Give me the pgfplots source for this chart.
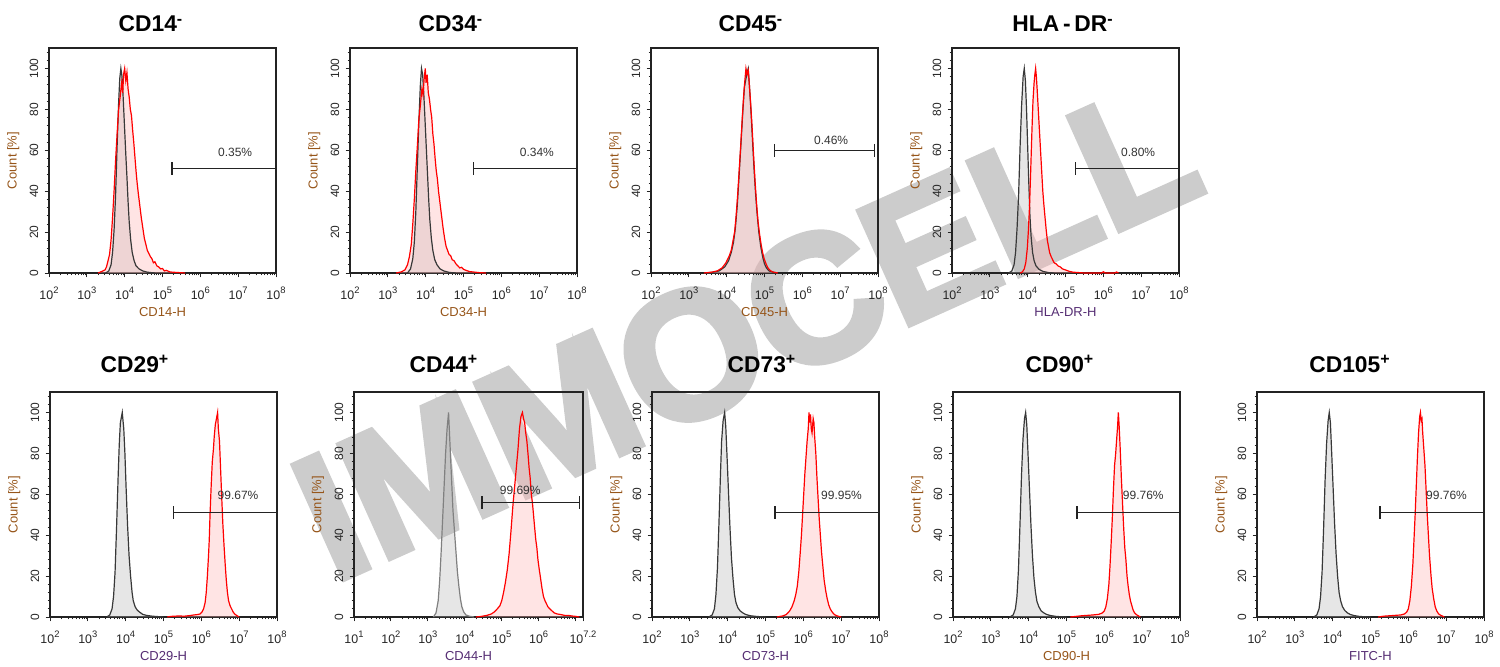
\documentclass[border=0pt]{standalone}
\usepackage{fontspec}
\setmainfont{Liberation Sans}
\newfontfamily\wmfont[FakeBold=3.5]{Liberation Sans Bold}
\usepackage{pgfplots}
\pgfplotsset{compat=1.18}
\usepackage{pgfplotstable}

\definecolor{lblbrown}{RGB}{150,85,25}
\definecolor{lblpurple}{RGB}{85,45,115}
\definecolor{wm}{RGB}{204,204,204}
\definecolor{axc}{RGB}{35,35,35}

\newcommand\tp[1]{10\raisebox{2.6pt}{\fontsize{4.7}{4}\selectfont #1}}

% ---------------- data (x = log10 of intensity, y = count %) ----------------
\pgfplotstableread{
x y
3.50 0
3.58 1
3.64 4
3.68 10
3.72 21
3.76 38
3.80 62
3.84 83
3.87 95
3.90 100
3.93 96
3.96 86
4.00 70
4.03 58
4.06 47
4.09 35
4.12 25
4.16 16
4.20 10
4.25 6
4.30 3.5
4.38 2
4.48 1
4.60 0.4
4.80 0
}\gA
\pgfplotstableread{
x y
3.30 0
3.40 0.8
3.48 1.5
3.52 3
3.56 6
3.60 9
3.64 16
3.68 27
3.72 40
3.76 55
3.80 68
3.84 80
3.88 86
3.92 93
3.95 88
3.97 97
4.00 100
4.03 94
4.06 98
4.09 90
4.12 86
4.15 80
4.18 77
4.21 70
4.24 64
4.27 57
4.30 50
4.33 44
4.36 39
4.40 33
4.44 27
4.48 22
4.52 17
4.56 14
4.60 11
4.64 9.5
4.68 8
4.72 7
4.76 5
4.80 5.5
4.85 3.5
4.90 3
4.95 2
5.00 2.2
5.05 1
5.10 1.3
5.20 0.5
5.35 0.3
5.60 0
}\rA
\pgfplotstableread{
x y
3.52 0
3.60 2
3.66 7
3.70 15
3.74 30
3.78 52
3.82 74
3.86 92
3.89 100
3.92 97
3.95 88
3.99 72
4.02 60
4.05 48
4.08 36
4.11 26
4.15 17
4.19 11
4.24 6.5
4.30 4
4.38 2
4.48 1
4.62 0.3
4.80 0
}\gB
\pgfplotstableread{
x y
3.22 0
3.35 0.5
3.45 1.5
3.52 4
3.57 8
3.62 14
3.66 24
3.70 36
3.74 50
3.78 62
3.82 75
3.86 82
3.90 90
3.93 87
3.96 95
3.99 100
4.01 93
4.04 97
4.07 88
4.10 85
4.13 80
4.16 76
4.19 68
4.22 63
4.25 56
4.28 50
4.31 46
4.34 40
4.38 34
4.42 28
4.46 22
4.50 17
4.54 13
4.58 11
4.62 9
4.66 8.5
4.70 6.5
4.75 6
4.80 4.5
4.85 3.5
4.90 2.5
4.95 2.8
5.00 1.8
5.08 1.2
5.16 0.7
5.26 0.5
5.40 0.2
5.60 0
}\rB
\pgfplotstableread{
x y
3.40 0
3.60 0.3
3.80 1
3.95 3
4.05 6
4.12 10
4.18 15
4.23 22
4.28 33
4.33 48
4.38 64
4.43 80
4.47 91
4.51 95
4.54 98
4.57 100
4.60 92
4.64 80
4.68 66
4.72 52
4.76 40
4.80 30
4.85 20
4.90 13
4.95 8
5.00 4.5
5.05 2.5
5.12 1
5.25 0.3
5.35 0
}\gC
\pgfplotstableread{
x y
3.40 0
3.60 0.4
3.75 1
3.88 2.5
3.98 5
4.06 8
4.12 11
4.17 16
4.21 20
4.25 28
4.29 38
4.33 50
4.37 62
4.41 75
4.45 87
4.48 94
4.51 100
4.54 97
4.57 99
4.60 92
4.63 84
4.67 72
4.71 58
4.75 45
4.79 34
4.83 25
4.87 19
4.91 14
4.95 10
4.99 7
5.04 4.5
5.09 2.5
5.15 1.2
5.22 0.5
5.35 0
}\rC
\pgfplotstableread{
x y
3.50 0
3.58 1
3.64 4
3.68 10
3.72 22
3.76 38
3.80 62
3.84 82
3.88 96
3.91 100
3.94 94
3.97 80
4.00 62
4.03 44
4.06 28
4.09 18
4.13 10
4.17 6
4.22 3.5
4.30 1.8
4.40 0.8
4.55 0.2
4.70 0
}\gD
\pgfplotstableread{
x y
3.80 0
3.86 0.5
3.91 2
3.95 5
3.99 12
4.02 21
4.05 33
4.08 50
4.11 68
4.14 84
4.17 93
4.19 97
4.21 100
4.23 96
4.25 90
4.28 80
4.31 70
4.34 60
4.37 50
4.40 40
4.43 33
4.46 27
4.49 21
4.52 16
4.55 13
4.58 10
4.62 8
4.66 6.5
4.70 5
4.75 4.5
4.80 3.5
4.86 3
4.92 2
5.00 1.5
5.10 0.8
5.20 0.4
5.35 0.2
5.50 0
5.95 0
6.00 0.6
6.05 0
6.30 0
6.35 0.5
6.40 0
}\rD
\pgfplotstableread{
x y
3.50 0
3.58 1
3.64 4
3.68 10
3.72 22
3.76 44
3.80 68
3.83 84
3.86 95
3.91 100
3.95 92
3.98 80
4.01 64
4.05 45
4.09 30
4.13 20
4.17 12
4.20 8
4.25 5
4.30 3.5
4.36 2.5
4.45 1.3
4.55 0.8
4.70 0.4
4.85 0.2
5.00 0
}\gE
\pgfplotstableread{
x y
5.10 0
5.20 0.3
5.40 0.5
5.55 0.4
5.70 0.7
5.80 1
5.90 1.2
5.97 1.5
6.02 2.5
6.06 4
6.10 7
6.13 12
6.16 20
6.19 30
6.21 38
6.23 50
6.26 64
6.29 76
6.32 82
6.34 88
6.37 94
6.40 97
6.43 100
6.45 92
6.48 86
6.51 72
6.54 58
6.57 45
6.60 35
6.63 26
6.66 18
6.69 12
6.72 8
6.76 5.5
6.80 4
6.84 2.5
6.88 1.5
6.93 0.8
7.00 0
}\rE
\pgfplotstableread{
x y
3.15 0
3.22 2
3.28 8
3.32 18
3.36 32
3.40 48
3.44 64
3.48 80
3.52 92
3.56 100
3.59 88
3.62 76
3.65 64
3.68 52
3.72 42
3.76 32
3.80 22
3.84 15
3.88 9
3.92 5
3.97 2.5
4.03 1
4.12 0.4
4.25 0
}\gF
\pgfplotstableread{
x y
4.30 0
4.45 0.3
4.60 0.8
4.72 1.5
4.80 2.5
4.88 4
4.95 5.5
5.00 8
5.05 12
5.10 17
5.15 23
5.20 31
5.25 42
5.30 54
5.35 64
5.40 74
5.44 82
5.48 92
5.52 98
5.56 100
5.59 97
5.62 95
5.65 90
5.68 86
5.71 80
5.74 73
5.77 68
5.80 60
5.83 56
5.86 50
5.89 44
5.92 38
5.95 34
5.98 28
6.01 24
6.05 19
6.09 14
6.13 10
6.17 8
6.21 6.5
6.25 5
6.30 4
6.36 3
6.42 2
6.50 1.5
6.60 1.2
6.70 0.8
6.80 0.8
6.90 0.5
7.00 0.3
7.10 0
}\rF
\pgfplotstableread{
x y
3.50 0
3.59 1
3.65 4
3.69 11
3.73 24
3.77 46
3.81 70
3.84 86
3.88 96
3.92 100
3.95 93
3.98 80
4.02 62
4.06 44
4.10 29
4.14 19
4.18 11
4.22 7
4.27 4.5
4.33 3
4.40 2
4.48 1.2
4.60 0.6
4.75 0.3
4.90 0.1
5.00 0
}\gG
\pgfplotstableread{
x y
5.30 0
5.45 0.5
5.55 1.2
5.64 3
5.70 5
5.76 8
5.80 11
5.84 15
5.88 22
5.92 32
5.95 40
5.98 50
6.01 60
6.04 70
6.07 78
6.10 86
6.13 92
6.15 100
6.17 95
6.19 99
6.21 92
6.23 90
6.26 97
6.28 95
6.30 88
6.33 80
6.36 68
6.39 58
6.42 48
6.45 40
6.48 32
6.51 26
6.55 18
6.59 13
6.63 9
6.67 6
6.71 4
6.76 2.5
6.82 1.2
6.90 0.5
7.00 0
}\rG
\pgfplotstableread{
x y
3.50 0
3.59 1
3.65 4
3.69 10
3.73 23
3.77 45
3.81 69
3.85 87
3.89 97
3.92 100
3.95 94
3.98 81
4.02 63
4.06 45
4.10 30
4.14 19
4.18 12
4.22 7.5
4.27 5
4.33 3
4.40 2
4.48 1.2
4.58 0.7
4.72 0.3
4.88 0.1
5.00 0
}\gH
\pgfplotstableread{
x y
5.10 0
5.25 0.3
5.40 0.6
5.55 0.8
5.70 1
5.85 1.3
5.95 2
6.00 3
6.04 5
6.08 9
6.12 16
6.15 25
6.18 36
6.21 48
6.24 62
6.27 74
6.30 80
6.33 88
6.35 93
6.37 100
6.39 94
6.42 82
6.45 68
6.48 56
6.51 44
6.54 34
6.57 28
6.60 20
6.63 15
6.66 11
6.69 8
6.72 6
6.76 3.5
6.80 2
6.86 1
6.95 0
}\rH
\pgfplotstableread{
x y
3.50 0
3.58 1
3.64 4
3.68 10
3.72 22
3.76 43
3.80 67
3.84 85
3.88 96
3.91 100
3.94 95
3.97 82
4.01 64
4.05 46
4.09 31
4.13 20
4.17 12
4.21 8
4.26 5
4.32 3.2
4.39 2
4.47 1.2
4.57 0.7
4.70 0.3
4.86 0.1
5.00 0
}\gI
\pgfplotstableread{
x y
5.20 0
5.35 0.4
5.50 0.6
5.65 0.8
5.80 1
5.90 1.5
5.96 2.5
6.00 4
6.04 8
6.08 15
6.12 26
6.15 38
6.18 50
6.21 64
6.24 78
6.27 90
6.30 98
6.32 100
6.34 96
6.36 97
6.38 90
6.41 82
6.44 74
6.47 62
6.50 50
6.53 40
6.56 30
6.60 20
6.63 14
6.67 9
6.71 5
6.75 3
6.80 1.5
6.86 0.8
6.95 0
}\rI

\pgfplotsset{
  minorlog/.style={minor xtick={1.301,1.477,1.602,1.699,1.778,1.845,1.903,1.954,
    2.301,2.477,2.602,2.699,2.778,2.845,2.903,2.954,
    3.301,3.477,3.602,3.699,3.778,3.845,3.903,3.954,
    4.301,4.477,4.602,4.699,4.778,4.845,4.903,4.954,
    5.301,5.477,5.602,5.699,5.778,5.845,5.903,5.954,
    6.301,6.477,6.602,6.699,6.778,6.845,6.903,6.954,
    7.301,7.477,7.602,7.699,7.778,7.845,7.903,7.954}},
  fbase/.style={
    scale only axis, width=113.5pt, height=112.5pt, anchor=south west,
    ymin=0, ymax=110,
    ytick={0,20,...,100},
    minor ytick={4,8,12,16,24,28,32,36,44,48,52,56,64,68,72,76,84,88,92,96,104,108},
    xtick pos=bottom, ytick pos=left, tick align=outside,
    major tick length=2.2pt, minor tick length=1.2pt,
    every tick/.style={color=axc, line width=0.45pt},
    every minor tick/.style={color=axc, line width=0.4pt},
    axis line style={color=axc, line width=0.7pt},
    minorlog,
    /pgf/number format/assume math mode=true,
    tick label style={text=black!85},
    xticklabel style={font=\fontsize{6.2}{6}\selectfont, inner sep=0pt, anchor=north, yshift=-4.8pt},
    yticklabel style={font=\fontsize{6}{6}\selectfont, rotate=90, anchor=south, inner xsep=0pt, inner ysep=3pt},
    ylabel={Count [\%]},
    ylabel style={at={(axis description cs:-0.157,0.5)}, anchor=center, font=\fontsize{6.5}{7}\selectfont, text=lblbrown},
    xlabel style={at={(axis description cs:0.5,-0.173)}, anchor=center, font=\fontsize{6.5}{7}\selectfont},
  },
  std/.style={fbase, xmin=2, xmax=8, xtick={2,...,8},
    xticklabels={\tp{2},\tp{3},\tp{4},\tp{5},\tp{6},\tp{7},\tp{8}}},
  gfill/.style={draw=none, fill=black!30, fill opacity=0.33},
  rfill/.style={draw=none, fill=red!30, fill opacity=0.35},
  gline/.style={draw=black!78, line width=0.6pt, mark=none},
  rline/.style={draw=red, line width=0.6pt, mark=none},
  gate/.style={draw=axc, line width=0.7pt, mark=|, mark size=3.2pt, mark options={solid, draw=axc, line width=0.7pt}},
}
\tikzset{
  pct/.style={font=\fontsize{6}{7}\selectfont, text=black!80},
  ttl/.style={font=\fontsize{11.4}{12}\selectfont\bfseries, anchor=base, inner sep=0pt},
}

\begin{document}
\begin{tikzpicture}
\useasboundingbox (0,0) rectangle (750pt,333pt);

% watermark
\node[rotate=24.2, text=wm, font=\fontsize{90}{90}\wmfont, inner sep=0pt] at (373pt,168pt) {IMMOCELL};

% titles
\node[ttl] at (75.5pt,317pt) {CD14\textsuperscript{-}};
\node[ttl] at (225.5pt,317pt) {CD34\textsuperscript{-}};
\node[ttl] at (375.5pt,317pt) {CD45\textsuperscript{-}};
\node[ttl] at (531.5pt,317pt) {HLA\,-\,DR\textsuperscript{-}};
\node[ttl] at (67.5pt,147pt) {CD29\textsuperscript{+}};
\node[ttl] at (222pt,147pt) {CD44\textsuperscript{+}};
\node[ttl] at (381pt,147pt) {CD73\textsuperscript{+}};
\node[ttl] at (530pt,147pt) {CD90\textsuperscript{+}};
\node[ttl] at (675pt,147pt) {CD105\textsuperscript{+}};

% ---- CD14
\begin{axis}[std, at={(24.5pt,196.5pt)}, xlabel={CD14-H}, xlabel style={text=lblbrown}]
\addplot[gfill] table {\gA} \closedcycle;
\addplot[rfill] table {\rA} \closedcycle;
\addplot[gline] table {\gA};
\addplot[rline] table {\rA};
\addplot[gate] coordinates {(5.25,51) (8,51)};
\node[pct] at (axis cs:6.92,59) {0.35\%};
\end{axis}

% ---- CD34
\begin{axis}[std, at={(175pt,196.5pt)}, xlabel={CD34-H}, xlabel style={text=lblbrown}]
\addplot[gfill] table {\gB} \closedcycle;
\addplot[rfill] table {\rB} \closedcycle;
\addplot[gline] table {\gB};
\addplot[rline] table {\rB};
\addplot[gate] coordinates {(5.26,51) (8,51)};
\node[pct] at (axis cs:6.94,59) {0.34\%};
\end{axis}

% ---- CD45
\begin{axis}[std, at={(325.5pt,196.5pt)}, xlabel={CD45-H}, xlabel style={text=lblbrown}]
\addplot[gfill] table {\gC} \closedcycle;
\addplot[rfill] table {\rC} \closedcycle;
\addplot[gline] table {\gC};
\addplot[rline] table {\rC};
\addplot[gate] coordinates {(5.27,60) (7.9,60)};
\node[pct] at (axis cs:6.76,65) {0.46\%};
\end{axis}

% ---- HLA-DR
\begin{axis}[std, at={(476pt,196.5pt)}, xlabel={HLA-DR-H}, xlabel style={text=lblpurple}]
\addplot[gfill] table {\gD} \closedcycle;
\addplot[rfill] table {\rD} \closedcycle;
\addplot[gline] table {\gD};
\addplot[rline] table {\rD};
\addplot[gate] coordinates {(5.27,51) (8,51)};
\node[pct] at (axis cs:6.92,59) {0.80\%};
\end{axis}

% ---- CD29
\begin{axis}[std, at={(25pt,24.5pt)}, xlabel={CD29-H}, xlabel style={text=lblpurple}]
\addplot[gfill] table {\gE} \closedcycle;
\addplot[rfill] table {\rE} \closedcycle;
\addplot[gline] table {\gE};
\addplot[rline] table {\rE};
\addplot[gate] coordinates {(5.26,51) (8,51)};
\node[pct] at (axis cs:6.97,59.5) {99.67\%};
\end{axis}

% ---- CD44
\begin{axis}[fbase, at={(177pt,24.5pt)}, width=114.5pt, xmin=1, xmax=7.2,
  xtick={1,2,3,4,5,6,7,7.2},
  xticklabels={\tp{1},\tp{2},\tp{3},\tp{4},\tp{5},\tp{6},{},\tp{7.2}},
  xlabel={CD44-H}, xlabel style={text=lblpurple}]
\addplot[gfill] table {\gF} \closedcycle;
\addplot[rfill] table {\rF} \closedcycle;
\addplot[gline, draw=black!50] table {\gF};
\addplot[rline] table {\rF};
\addplot[gate] coordinates {(4.46,56) (7.1,56)};
\node[pct] at (axis cs:5.5,62) {99.69\%};
\end{axis}

% ---- CD73
\begin{axis}[std, at={(326pt,24.5pt)}, xlabel={CD73-H}, xlabel style={text=lblpurple}]
\addplot[gfill] table {\gG} \closedcycle;
\addplot[rfill] table {\rG} \closedcycle;
\addplot[gline] table {\gG};
\addplot[rline] table {\rG};
\addplot[gate] coordinates {(5.25,51) (8,51)};
\node[pct] at (axis cs:7.01,59.5) {99.95\%};
\end{axis}

% ---- CD90
\begin{axis}[std, at={(476.5pt,24.5pt)}, xlabel={CD90-H}, xlabel style={text=lblbrown}]
\addplot[gfill] table {\gH} \closedcycle;
\addplot[rfill] table {\rH} \closedcycle;
\addplot[gline] table {\gH};
\addplot[rline] table {\rH};
\addplot[gate] coordinates {(5.28,51) (8,51)};
\node[pct] at (axis cs:7.03,59.5) {99.76\%};
\end{axis}

% ---- CD105
\begin{axis}[std, at={(628.5pt,24.5pt)}, xlabel={FITC-H}, xlabel style={text=lblpurple}]
\addplot[gfill] table {\gI} \closedcycle;
\addplot[rfill] table {\rI} \closedcycle;
\addplot[gline] table {\gI};
\addplot[rline] table {\rI};
\addplot[gate] coordinates {(5.25,51) (8,51)};
\node[pct] at (axis cs:7.01,59.5) {99.76\%};
\end{axis}
\end{tikzpicture}
\end{document}
